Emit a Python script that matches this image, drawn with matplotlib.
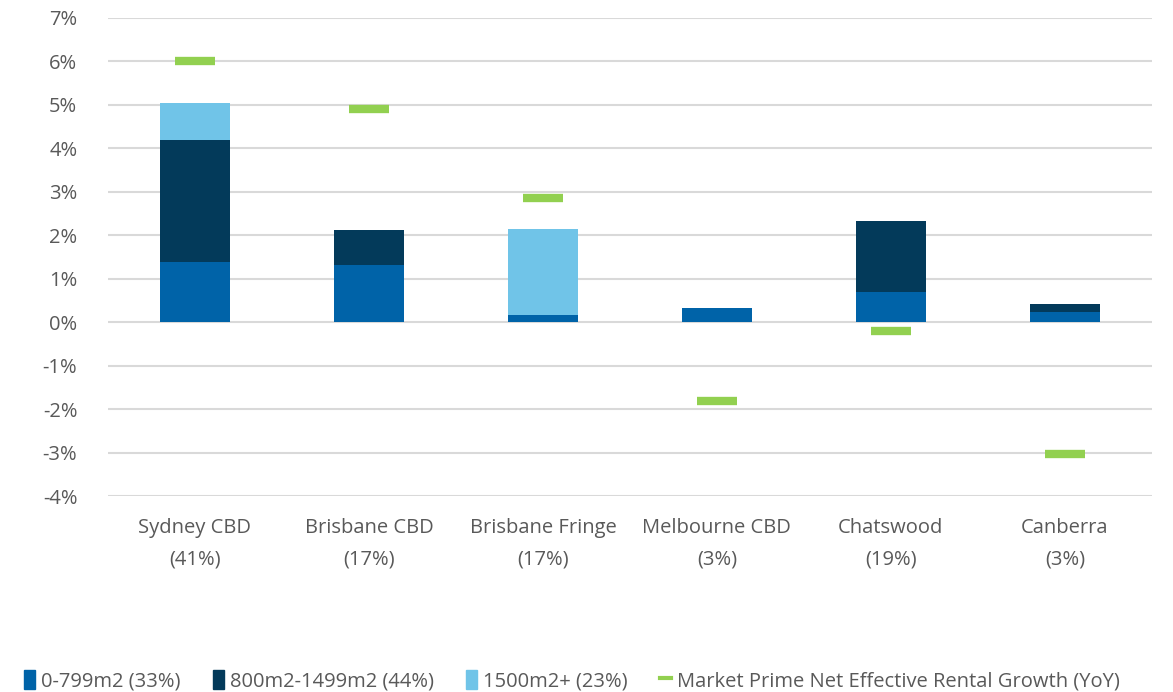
import matplotlib.pyplot as plt
from matplotlib.patches import Patch
from matplotlib.lines import Line2D
import numpy as np

# chart data (percent)
markets = ['Sydney CBD\n(41%)', 'Brisbane CBD\n(17%)', 'Brisbane Fringe\n(17%)',
           'Melbourne CBD\n(3%)', 'Chatswood\n(19%)', 'Canberra\n(3%)']
small = [1.38, 1.31, 0.16, 0.32, 0.69, 0.23]
medium = [2.81, 0.81, 0.0, 0.0, 1.63, 0.20]
large = [0.86, 0.0, 1.99, 0.0, 0.0, 0.0]
rental_growth = [6.02, 4.91, 2.86, -1.81, -0.21, -3.03]

series_labels = ['0-799m2 (33%)', '800m2-1499m2 (44%)', '1500m2+ (23%)',
                 'Market Prime Net Effective Rental Growth (YoY)']
colors = ['#0063A8', '#033A5A', '#70C4E8', '#92D050']
text_color = '#595959'

plt.rcParams['font.family'] = ['Open Sans', 'DejaVu Sans']

fig = plt.figure(figsize=(11.73, 6.92), dpi=100)
ax = fig.add_axes([0.092, 0.283, 0.890, 0.691])

x = np.arange(len(markets))
width = 0.4
bottom = np.zeros(len(markets))
for vals, c in zip([small, medium, large], colors[:3]):
    vals = np.array(vals)
    ax.bar(x, vals, width, bottom=bottom, color=c, zorder=3)
    bottom = bottom + vals

ax.plot(x, rental_growth, ls='none', marker='_', ms=29, mew=6,
        color=colors[3], zorder=4)

ax.set_xlim(-0.5, len(markets) - 0.5)
ax.set_ylim(-4, 7)
ax.set_yticks(np.arange(-4, 8, 1))
ax.set_yticklabels([f'{v}%' for v in range(-4, 8)])
ax.set_xticks(x)
ax.set_xticklabels(markets, linespacing=1.75)
ax.tick_params(length=0, labelsize=14.5, colors=text_color)
ax.tick_params(axis='x', pad=16)
ax.tick_params(axis='y', pad=22)
ax.grid(axis='y', color='#D9D9D9', lw=1.5, zorder=0)
for s in ax.spines.values():
    s.set_visible(False)

handles = [Patch(color=c) for c in colors[:3]]
handles.append(Line2D([], [], color=colors[3], lw=3))
leg = fig.legend(handles, series_labels, loc='lower left', bbox_to_anchor=(0.005, -0.025),
                 ncol=4, frameon=False, fontsize=14.5, handlelength=0.55, handleheight=1.1,
                 handletextpad=0.3, columnspacing=1.6, labelcolor=text_color)

fig.savefig('out.png', dpi=100)
